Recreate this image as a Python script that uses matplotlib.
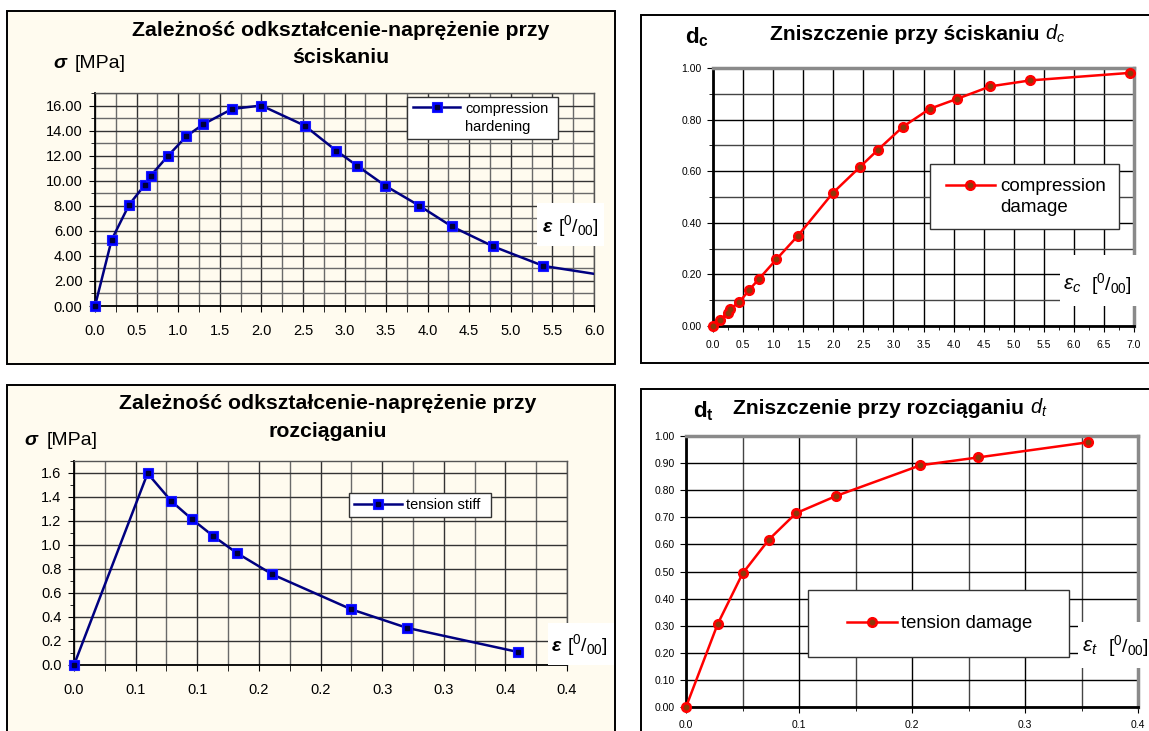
import matplotlib
matplotlib.use('Agg')
import matplotlib.pyplot as plt
from matplotlib.patches import Rectangle
from matplotlib.ticker import MultipleLocator, FixedLocator, FixedFormatter, FormatStrFormatter
from matplotlib.legend_handler import HandlerTuple
import numpy as np

# ---------------- data ----------------
comp_strain = [0.0, 0.2, 0.41, 0.6, 0.67, 0.88, 1.1, 1.3, 1.65, 2.0, 2.52, 2.9, 3.15, 3.49, 3.9, 4.29, 4.79, 5.39, 6.5]
comp_stress = [0.0, 5.28, 8.08, 9.68, 10.4, 12.0, 13.55, 14.5, 15.73, 16.0, 14.4, 12.4, 11.2, 9.6, 8.0, 6.35, 4.75, 3.2, 2.05]

dc_strain = [0.0, 0.11, 0.244, 0.288, 0.4375, 0.598, 0.759, 1.052, 1.412, 1.994, 2.437, 2.747, 3.157, 3.605, 4.065, 4.613, 5.278, 6.928]
dc_value = [0.0, 0.022, 0.052, 0.067, 0.092, 0.139, 0.181, 0.258, 0.350, 0.516, 0.615, 0.684, 0.772, 0.842, 0.881, 0.929, 0.952, 0.981]

ten_strain = [0.0, 0.0597, 0.079, 0.0955, 0.113, 0.132, 0.161, 0.225, 0.270, 0.360]
ten_stress = [0.0, 1.597, 1.365, 1.217, 1.074, 0.934, 0.755, 0.464, 0.310, 0.109]

dt_strain = [0.0, 0.028, 0.0501, 0.0734, 0.0973, 0.133, 0.2075, 0.2586, 0.356]
dt_value = [0.0, 0.306, 0.493, 0.618, 0.715, 0.779, 0.892, 0.921, 0.977]

ten_xticklabels = ['0.0', '0.1', '0.1', '0.2', '0.2', '0.3', '0.3', '0.4', '0.4']

title_comp = ['Zależność odkształcenie-naprężenie przy', 'ściskaniu']
title_ten = ['Zależność odkształcenie-naprężenie przy', 'rozciąganiu']
title_dc = 'Zniszczenie przy ściskaniu'
title_dt = 'Zniszczenie przy rozciąganiu'
legend_comp = 'compression\nhardening'
legend_dc = 'compression\ndamage'
legend_ten = 'tension stiff'
legend_dt = 'tension damage'

# ---------------- style ----------------
plt.rcParams['font.family'] = ['Liberation Sans', 'DejaVu Sans']
plt.rcParams['mathtext.fontset'] = 'custom'
plt.rcParams['mathtext.rm'] = 'Liberation Sans'
plt.rcParams['mathtext.it'] = 'Liberation Sans:italic'
plt.rcParams['mathtext.bf'] = 'Liberation Sans:bold'

W, H = 1149, 731
CREAM = '#FFFBEF'
NAVY = '#000080'
BLUE = '#0000FF'
RED = '#FF0000'
BROWN = '#8B3A0A'

fig = plt.figure(figsize=(W / 100, H / 100), dpi=100)
fig.patch.set_facecolor('white')


def fx(x):
    return x / W


def fy(y):
    return 1 - y / H


def panel_box(x0, y0, x1, y1, fc):
    r = Rectangle((fx(x0), fy(y1)), (x1 - x0) / W, (y1 - y0) / H, transform=fig.transFigure,
                  facecolor=fc, edgecolor='black', linewidth=1.4, zorder=-1)
    fig.add_artist(r)


def make_axes(x0, y0, x1, y1):
    return fig.add_axes([fx(x0), fy(y1), (x1 - x0) / W, (y1 - y0) / H])


def ax_box(ax, x0, y0, x1, y1, ec='none', lw=1.0, z=4.5):
    r = Rectangle((fx(x0), fy(y1)), (x1 - x0) / W, (y1 - y0) / H, transform=fig.transFigure,
                  facecolor='white', edgecolor=ec, linewidth=lw, zorder=z, clip_on=False)
    ax.add_artist(r)


def ftext(ax, x, y, s, **kw):
    kw.setdefault('zorder', 6)
    ax.text(fx(x), fy(y), s, transform=fig.transFigure, clip_on=False, **kw)


def add_legend(ax, handle, label, x, y, fs, hl, htp, ls=1.2, top=False):
    leg = ax.legend(handles=[handle], labels=[label], loc='center left',
                    bbox_to_anchor=(fx(x), fy(y)), bbox_transform=fig.transFigure, frameon=False,
                    borderpad=0, borderaxespad=0, handlelength=hl, handletextpad=htp, fontsize=fs,
                    handler_map={tuple: HandlerTuple(ndivide=1)})
    for t in leg.get_texts():
        t.set_linespacing(ls)
    if top:
        # put the sample line level with the first text line, as in the original
        try:
            for col in leg._legend_handle_box.get_children():
                for row in col.get_children():
                    row.align = 'top'
        except Exception:
            pass
    return leg


# panel frames
panel_box(7, 11, 615, 364, CREAM)
panel_box(641, 15, 1160, 363, 'white')
panel_box(7, 385, 615, 740, CREAM)
panel_box(641, 389, 1160, 740, 'white')

# ================= Panel 1: compression hardening =================
ax1 = make_axes(95, 93, 594, 306)
ax1.set_facecolor(CREAM)
ax1.set_xlim(0, 6.0)
ax1.set_ylim(0, 17)
ax1.xaxis.set_major_locator(MultipleLocator(0.5))
ax1.xaxis.set_minor_locator(MultipleLocator(0.25))
ax1.yaxis.set_major_locator(FixedLocator(np.arange(0, 16.1, 2)))
ax1.yaxis.set_minor_locator(MultipleLocator(1))
ax1.xaxis.set_major_formatter(FormatStrFormatter('%.1f'))
ax1.yaxis.set_major_formatter(FormatStrFormatter('%.2f'))
ax1.grid(which='major', color='#333333', lw=1.0)
ax1.grid(which='minor', color='#6a6a6a', lw=1.0)
ax1.tick_params(which='both', direction='out', labelsize=10.5, color='black')
ax1.tick_params(axis='x', which='major', length=4, pad=9)
ax1.tick_params(axis='x', which='minor', length=4)
ax1.tick_params(axis='y', which='major', length=4, pad=5)
ax1.tick_params(axis='y', which='minor', length=3)
for s in ['left', 'bottom']:
    ax1.spines[s].set_color('black'); ax1.spines[s].set_linewidth(1.3)
for s in ['top', 'right']:
    ax1.spines[s].set_color('#555555'); ax1.spines[s].set_linewidth(1.0)

cs = np.array(comp_strain); cv = np.array(comp_stress)
inside = cs <= 6.0
ax1.plot(cs, cv, color=NAVY, lw=1.8, zorder=3)
ax1.plot(cs[inside], cv[inside], ls='none', marker='s', ms=6.8, mfc=BLUE, mec='#1a1aff',
         mew=0.8, zorder=4, clip_on=False)
i1, = ax1.plot(cs[inside], cv[inside], ls='none', marker='s', ms=2.4, mfc='#00003a', mec='#00003a',
               zorder=4.2, clip_on=False)
h1, = ax1.plot([], [], color=NAVY, lw=1.8, marker='s', ms=6.8, mfc=BLUE, mec='#1a1aff', mew=0.8)
ax_box(ax1, 407, 97, 558, 139, ec='#333333', lw=1.0)
add_legend(ax1, (h1, i1), legend_comp, 413, 118, 10.5, 3.25, 0.33, ls=1.35, top=True)

ftext(ax1, 341, 36, title_comp[0], fontsize=15.3, fontweight='bold', ha='center', va='baseline')
ftext(ax1, 341, 63, title_comp[1], fontsize=15.3, fontweight='bold', ha='center', va='baseline')
ftext(ax1, 53, 68, 'σ', fontsize=14, fontweight='bold', fontstyle='italic', ha='left', va='baseline')
ftext(ax1, 75, 68, '[MPa]', fontsize=14, ha='left', va='baseline')
ax_box(ax1, 537, 203, 604, 246)
ftext(ax1, 543, 232, 'ε', fontsize=14, fontweight='bold', fontstyle='italic', ha='left', va='baseline')
ftext(ax1, 558, 232, r'[$^{0}$/$_{00}$]', fontsize=14, ha='left', va='baseline')

# ================= Panel 2: compression damage =================
ax2 = make_axes(713, 68, 1134, 326)
ax2.set_facecolor('white')
ax2.set_xlim(0, 7.0)
ax2.set_ylim(0, 1.0)
ax2.xaxis.set_major_locator(MultipleLocator(0.5))
ax2.xaxis.set_minor_locator(MultipleLocator(0.25))
ax2.yaxis.set_major_locator(MultipleLocator(0.2))
ax2.yaxis.set_minor_locator(MultipleLocator(0.1))
ax2.xaxis.set_major_formatter(FormatStrFormatter('%.1f'))
ax2.yaxis.set_major_formatter(FormatStrFormatter('%.2f'))
ax2.grid(which='major', color='black', lw=1.0)
ax2.grid(which='minor', axis='y', color='#444444', lw=1.0)
ax2.tick_params(which='both', direction='out', labelsize=7.5, color='black')
ax2.tick_params(which='major', length=4, pad=4)
ax2.tick_params(which='minor', length=3)
ax2.tick_params(axis='x', which='major', pad=6)
for s in ['left', 'bottom']:
    ax2.spines[s].set_color('black'); ax2.spines[s].set_linewidth(2.0)
for s in ['top', 'right']:
    ax2.spines[s].set_color('#8a8a8a'); ax2.spines[s].set_linewidth(2.5)
ax2.plot(dc_strain, dc_value, color=RED, lw=1.8, zorder=3, clip_on=False)
ax2.plot(dc_strain, dc_value, ls='none', marker='o', ms=7, mfc=RED, mec=RED, zorder=4, clip_on=False)
i2, = ax2.plot(dc_strain, dc_value, ls='none', marker='o', ms=3.2, mfc=BROWN, mec=BROWN, zorder=4.2,
               clip_on=False)
h2, = ax2.plot([], [], color=RED, lw=1.8, marker='o', ms=7, mfc=RED, mec=RED)
ax_box(ax2, 930, 164, 1119, 229, ec='#333333', lw=1.0)
add_legend(ax2, (h2, i2), legend_dc, 946, 197, 13.5, 2.6, 0.27, ls=1.25, top=True)
ftext(ax2, 770, 39.5, title_dc, fontsize=15.2, fontweight='bold', ha='left', va='baseline')
ftext(ax2, 1045, 39.5, r'$d_{c}$', fontsize=14.5, ha='left', va='baseline')
ftext(ax2, 685, 43, r'$\mathbf{d}_{\mathbf{c}}$', fontsize=16, ha='left', va='baseline')
ax_box(ax2, 1060, 255, 1149, 306)
ftext(ax2, 1063, 290, r'$ε_{c}$', fontsize=15, ha='left', va='baseline')
ftext(ax2, 1091, 290, r'[$^{0}$/$_{00}$]', fontsize=14, ha='left', va='baseline')

# ================= Panel 3: tension stiffening =================
ax3 = make_axes(74, 461, 567, 665)
ax3.set_facecolor(CREAM)
ax3.set_xlim(0, 0.4)
ax3.set_ylim(0, 1.7)
ax3.xaxis.set_major_locator(FixedLocator(np.linspace(0, 0.4, 9)))
ax3.xaxis.set_major_formatter(FixedFormatter(ten_xticklabels))
ax3.xaxis.set_minor_locator(MultipleLocator(0.025))
ax3.yaxis.set_major_locator(FixedLocator(np.arange(0, 1.61, 0.2)))
ax3.yaxis.set_minor_locator(MultipleLocator(0.1))
ax3.yaxis.set_major_formatter(FormatStrFormatter('%.1f'))
ax3.grid(which='major', color='#333333', lw=1.0)
ax3.grid(which='minor', axis='x', color='#6a6a6a', lw=1.0)
ax3.tick_params(which='both', direction='out', labelsize=10.5, color='black')
ax3.tick_params(axis='x', which='major', length=4, pad=9)
ax3.tick_params(axis='x', which='minor', length=4)
ax3.tick_params(axis='y', which='major', length=4, pad=5)
ax3.tick_params(axis='y', which='minor', length=3)
for s in ['left', 'bottom']:
    ax3.spines[s].set_color('black'); ax3.spines[s].set_linewidth(1.3)
for s in ['top', 'right']:
    ax3.spines[s].set_color('#555555'); ax3.spines[s].set_linewidth(1.0)
ax3.plot(ten_strain, ten_stress, color=NAVY, lw=1.8, zorder=3)
ax3.plot(ten_strain, ten_stress, ls='none', marker='s', ms=6.8, mfc=BLUE, mec='#1a1aff', mew=0.8,
         zorder=4, clip_on=False)
i3, = ax3.plot(ten_strain, ten_stress, ls='none', marker='s', ms=2.4, mfc='#00003a', mec='#00003a',
               zorder=4.2, clip_on=False)
h3, = ax3.plot([], [], color=NAVY, lw=1.8, marker='s', ms=6.8, mfc=BLUE, mec='#1a1aff', mew=0.8)
ax_box(ax3, 349, 493, 491, 517, ec='#333333', lw=1.0)
add_legend(ax3, (h3, i3), legend_ten, 354, 505, 10.5, 3.3, 0.27)
ftext(ax3, 328, 409, title_ten[0], fontsize=15.3, fontweight='bold', ha='center', va='baseline')
ftext(ax3, 328, 437, title_ten[1], fontsize=15.3, fontweight='bold', ha='center', va='baseline')
ftext(ax3, 24, 445, 'σ', fontsize=14, fontweight='bold', fontstyle='italic', ha='left', va='baseline')
ftext(ax3, 47, 445, '[MPa]', fontsize=14, ha='left', va='baseline')
ax_box(ax3, 548, 623, 614, 665)
ftext(ax3, 552, 651, 'ε', fontsize=14, fontweight='bold', fontstyle='italic', ha='left', va='baseline')
ftext(ax3, 567, 651, r'[$^{0}$/$_{00}$]', fontsize=14, ha='left', va='baseline')

# ================= Panel 4: tension damage =================
ax4 = make_axes(686, 436, 1138, 707)
ax4.set_facecolor('white')
ax4.set_xlim(0, 0.4)
ax4.set_ylim(0, 1.0)
ax4.xaxis.set_major_locator(MultipleLocator(0.1))
ax4.xaxis.set_minor_locator(MultipleLocator(0.05))
ax4.yaxis.set_major_locator(MultipleLocator(0.1))
ax4.xaxis.set_major_formatter(FormatStrFormatter('%.1f'))
ax4.yaxis.set_major_formatter(FormatStrFormatter('%.2f'))
ax4.grid(which='major', color='black', lw=1.0)
ax4.grid(which='minor', axis='x', color='#444444', lw=1.0)
ax4.tick_params(which='both', direction='out', labelsize=7.5, color='black')
ax4.tick_params(which='major', length=4, pad=4)
ax4.tick_params(which='minor', length=3)
ax4.tick_params(axis='x', which='major', pad=5)
for s in ['left', 'bottom']:
    ax4.spines[s].set_color('black'); ax4.spines[s].set_linewidth(2.0)
for s in ['top', 'right']:
    ax4.spines[s].set_color('#8a8a8a'); ax4.spines[s].set_linewidth(2.5)
ax4.plot(dt_strain, dt_value, color=RED, lw=1.8, zorder=3, clip_on=False)
ax4.plot(dt_strain, dt_value, ls='none', marker='o', ms=7, mfc=RED, mec=RED, zorder=4, clip_on=False)
i4, = ax4.plot(dt_strain, dt_value, ls='none', marker='o', ms=3.2, mfc=BROWN, mec=BROWN, zorder=4.2,
               clip_on=False)
h4, = ax4.plot([], [], color=RED, lw=1.8, marker='o', ms=7, mfc=RED, mec=RED)
ax_box(ax4, 808, 590, 1069, 657, ec='#333333', lw=1.0)
add_legend(ax4, (h4, i4), legend_dt, 847, 624, 13.3, 2.7, 0.2)
ftext(ax4, 733, 414, title_dt, fontsize=15.2, fontweight='bold', ha='left', va='baseline')
ftext(ax4, 1030, 414, r'$d_{t}$', fontsize=14.5, ha='left', va='baseline')
ftext(ax4, 693, 417, r'$\mathbf{d}_{\mathbf{t}}$', fontsize=16, ha='left', va='baseline')
ax_box(ax4, 1078, 622, 1149, 668)
ftext(ax4, 1082, 652, r'$ε_{t}$', fontsize=15, ha='left', va='baseline')
ftext(ax4, 1108, 652, r'[$^{0}$/$_{00}$]', fontsize=14, ha='left', va='baseline')

fig.savefig('out.png', dpi=100, facecolor='white')
